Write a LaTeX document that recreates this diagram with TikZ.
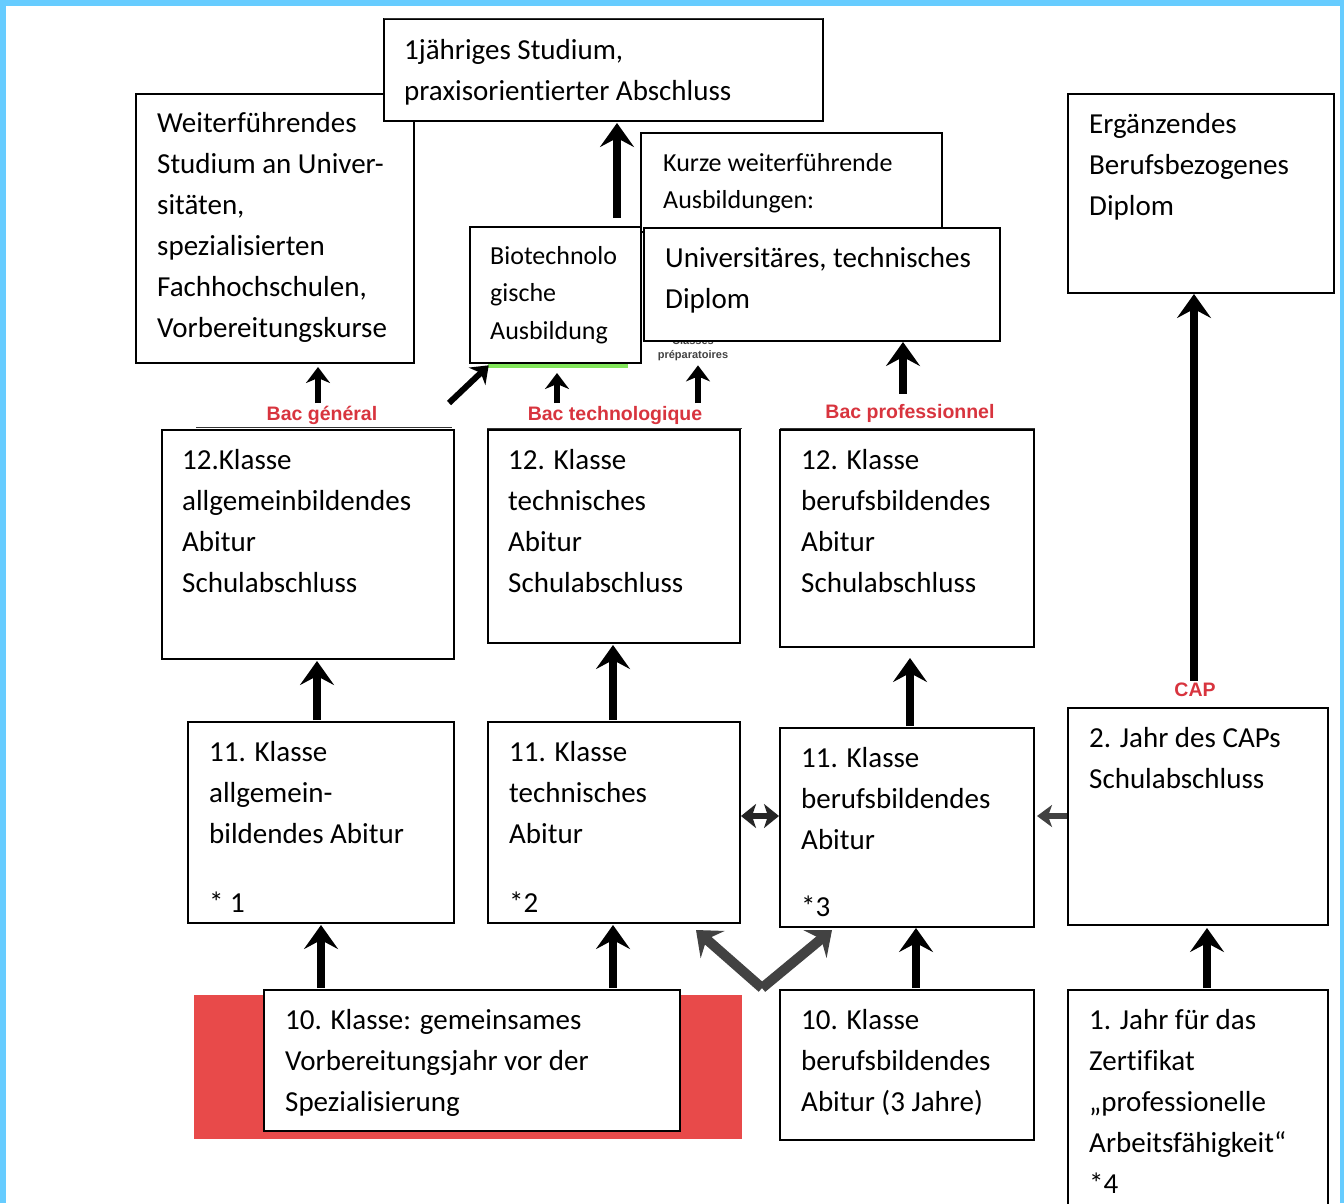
\documentclass[tikz,border=0pt]{standalone}
\usepackage{fontspec}
\setmainfont{Carlito}[Ligatures={TeX,NoCommon}]
\newfontfamily\arialf{Liberation Sans}
\usetikzlibrary{arrows.meta,calc}
\definecolor{frameblue}{RGB}{102,204,255}
\definecolor{bacred}{RGB}{216,52,62}
\definecolor{blockred}{RGB}{232,74,74}
\definecolor{arrgray}{RGB}{66,66,66}
\definecolor{lightgreen}{RGB}{130,230,90}
\newcommand\lns[1]{\begin{tabular}[t]{@{}l@{}}#1\end{tabular}}
\newcommand\bx[5]{\node[box, minimum width={(#4-#2)*1pt}, minimum height={(#5-#3)*1pt}] (#1) at (#2,#3) {};}
\tikzset{
  box/.style={draw=black, line width=1.6pt, fill=white, anchor=north west, inner sep=0pt, outer sep=0pt},
  big/.style={anchor=base west, inner sep=0pt, font=\fontsize{29}{41}\selectfont},
  small/.style={anchor=base west, inner sep=0pt, font=\fontsize{26}{37.5}\selectfont},
  bac/.style={text=bacred, font=\arialf\bfseries\fontsize{19.5}{22}\selectfont, inner sep=0pt},
  prepstyle/.style={text=arrgray, font=\arialf\bfseries\fontsize{11}{13}\selectfont, inner sep=0pt},
  bigarr/.style={line width=8pt, -{Stealth[length=24pt,width=34pt,inset=9pt]}},
  smallarr/.style={line width=6pt, -{Stealth[length=16pt,width=24pt,inset=5pt]}},
  grayarr/.style={arrgray, line width=6pt, -{Stealth[length=15pt,width=22pt,inset=4pt]}},
  dblarr/.style={black!85, line width=6pt, {Stealth[length=15pt,width=24pt,inset=4pt]}-{Stealth[length=15pt,width=24pt,inset=4pt]}},
  varr/.style={arrgray, line width=10pt, -{Stealth[length=22pt,width=36pt,inset=8pt]}},
  topline/.style={draw=black!80, line width=1pt}
}
\begin{document}
\begin{tikzpicture}[x=1pt,y=-1pt]
\useasboundingbox (0,0) rectangle (1344,1203);
\clip (0,0) rectangle (1344,1203);
% frame
\fill[white] (0,0) rectangle (1344,1203);
\fill[frameblue] (0,0) rectangle (1344,6);
\fill[frameblue] (0,0) rectangle (6,1203);
\fill[frameblue] (1340,0) rectangle (1344,1203);
% red block
\fill[blockred] (194,995) rectangle (742,1139);
% green line
\draw[lightgreen, line width=4pt] (488,366) -- (628,366);
% hidden text fragment
\node[prepstyle] (cls) at (693,341) {Classes};
% boxes
\bx{wei}{136}{94}{414}{363}
\bx{top}{384}{19}{823}{121}
\bx{kur}{641}{133}{942}{232}
\bx{uni}{644}{228}{1000}{341}
\bx{bio}{470}{227}{641}{363}
\bx{erg}{1068}{94}{1334}{293}
\bx{rza}{162}{430}{454}{659}
\bx{rzb}{488}{430}{740}{643}
\bx{rzc}{780}{430}{1034}{647}
\bx{rea}{188}{722}{454}{923}
\bx{reb}{488}{722}{740}{923}
\bx{rec}{780}{728}{1034}{927}
\bx{cpb}{1068}{708}{1328}{925}
\bx{rta}{264}{990}{680}{1131}
\bx{rtb}{780}{990}{1034}{1140}
\bx{rtc}{1068}{990}{1328}{1215}
% top lines of row 12
\draw[topline] (196,427) -- (452,427);
\draw[topline] (487,428) -- (742,428);
\draw[topline] (780,428) -- (1035,428);
\draw[topline] (384,18) -- (823,18);
% texts
\node[big] (ttop) at (404,59) {\lns{1jähriges Studium,\\praxisorientierter Abschluss}};
\node[big] (twei) at (157,132) {\lns{Weiterführendes\\Studium an Univer-\\sitäten,\\spezialisierten\\Fachhochschulen,\\Vorbereitungskurse}};
\node[small] (tkur) at (663,171) {\lns{Kurze weiterführende\\Ausbildungen:}};
\node[big] (tuni) at (665,267) {\lns{Universitäres, technisches\\Diplom}};
\node[small] (tbio) at (490,264) {\lns{Biotechnolo\\gische\\Ausbildung}};
\node[big] (terg) at (1089,133) {\lns{Ergänzendes\\Berufsbezogenes\\Diplom}};
\node[big] (trza) at (182,469) {\lns{12.Klasse\\allgemeinbildendes\\Abitur\\Schulabschluss}};
\node[big] (trzb) at (508,469) {\lns{12. Klasse\\technisches\\Abitur\\Schulabschluss}};
\node[big] (trzc) at (801,469) {\lns{12. Klasse\\berufsbildendes\\Abitur\\Schulabschluss}};
\node[big] (trea) at (209,761) {\lns{11. Klasse\\allgemein-\\bildendes Abitur}};
\node[big] (sa) at (209,912) {* 1};
\node[big] (treb) at (509,761) {\lns{11. Klasse\\technisches\\Abitur}};
\node[big] (sb) at (509,912) {*2};
\node[big] (trec) at (801,767) {\lns{11. Klasse\\berufsbildendes\\Abitur}};
\node[big] (sc) at (801,916) {*3};
\node[big] (tcpb) at (1089,747) {\lns{2. Jahr des CAPs\\Schulabschluss}};
\node[big] (trta) at (285,1029) {\lns{10. Klasse: gemeinsames\\Vorbereitungsjahr vor der\\Spezialisierung}};
\node[big] (trtb) at (801,1029) {\lns{10. Klasse\\berufsbildendes\\Abitur (3 Jahre)}};
\node[big] (trtc) at (1089,1029) {\lns{1. Jahr für das\\Zertifikat\\„professionelle\\Arbeitsfähigkeit“\\{*4}}};
% red labels
\node[bac] (bacg) at (322,415) {Bac général};
\node[bac] (bact) at (615,415) {Bac technologique};
\node[bac] (bacp) at (910,413) {Bac professionnel};
\node[bac] (cap) at (1195,690) {CAP};
\node[prepstyle] (prep) at (693,356) {préparatoires};
% arrows
\draw[bigarr, shorten <=9pt, shorten >=2pt] (617,0 |- bio.north) -- (617,0 |- top.south);
\draw[smallarr, shorten <=27pt, shorten >=4pt] (318,0 |- rza.north) -- (318,0 |- wei.south);
\coordinate (dg) at (449,403);
\draw[smallarr, shorten >=-1pt] (dg) -- ($(bio.south west)+(18,3)$);
\draw[smallarr, shorten <=27pt, shorten >=10pt] (557,0 |- rzb.north) -- (557,0 |- bio.south);
\draw[smallarr, shorten <=27pt, shorten >=4pt] (698,0 |- rzb.north) -- (698,0 |- prep.south);
\draw[bigarr, shorten <=10pt, shorten >=1pt] (903,0 |- bacp.north) -- (903,0 |- uni.south);
\draw[bigarr, shorten <=2pt, shorten >=1pt] (1194,0 |- cap.north) -- (1194,0 |- erg.south);
\draw[bigarr, shorten <=2pt, shorten >=2pt] (317,0 |- rea.north) -- (317,0 |- rza.south);
\draw[bigarr, shorten <=2pt, shorten >=2pt] (613,0 |- reb.north) -- (613,0 |- rzb.south);
\draw[bigarr, shorten <=2pt, shorten >=11pt] (910,0 |- rec.north) -- (910,0 |- rzc.south);
\draw[bigarr, shorten <=2pt, shorten >=2pt] (321,0 |- rta.north) -- (321,0 |- rea.south);
\draw[bigarr, shorten <=2pt, shorten >=2pt] (613,0 |- rta.north) -- (613,0 |- reb.south);
\draw[bigarr, shorten <=2pt, shorten >=1pt] (916,0 |- rtb.north) -- (916,0 |- rec.south);
\draw[bigarr, shorten <=2pt, shorten >=3pt] (1207,0 |- rtc.north) -- (1207,0 |- cpb.south);
\draw[dblarr, shorten <=1pt, shorten >=1pt] (reb.east |- 0,816) -- (rec.west |- 0,816);
\draw[grayarr, shorten <=1pt, shorten >=3pt] (cpb.west |- 0,816) -- (rec.east |- 0,816);
\coordinate (vb) at (762,988);
\draw[varr] (vb) -- (696,930);
\draw[varr] (vb) -- (832,930);
\end{tikzpicture}
\end{document}
